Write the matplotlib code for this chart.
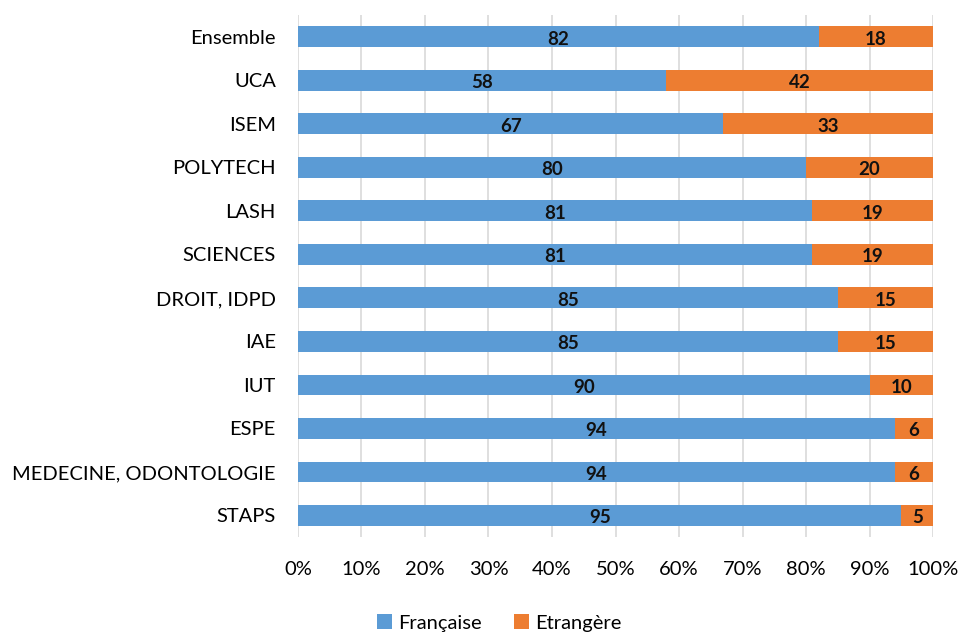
import matplotlib
matplotlib.use("Agg")
import matplotlib.pyplot as plt
import numpy as np

plt.rcParams['font.family'] = ['Lato', 'DejaVu Sans']

categories = ['Ensemble', 'UCA', 'ISEM', 'POLYTECH', 'LASH', 'SCIENCES',
              'DROIT, IDPD', 'IAE', 'IUT', 'ESPE', 'MEDECINE, ODONTOLOGIE', 'STAPS']
francaise = [82, 58, 67, 80, 81, 81, 85, 85, 90, 94, 94, 95]
etrangere = [18, 42, 33, 20, 19, 19, 15, 15, 10, 6, 6, 5]
xticks = [0, 10, 20, 30, 40, 50, 60, 70, 80, 90, 100]

blue = '#5B9BD5'
orange = '#ED7D31'

fig = plt.figure(figsize=(9.6, 6.32), dpi=100)
ax = fig.add_axes([0.3104, 0.150, 0.6615, 0.826])

y = np.arange(len(categories))
b1 = ax.barh(y, francaise, height=0.48, color=blue, label='Française', zorder=3)
b2 = ax.barh(y, etrangere, left=francaise, height=0.48, color=orange, label='Etrangère', zorder=3)

for bars, vals in ((b1, francaise), (b2, etrangere)):
    for bar, v in zip(bars, vals):
        ax.text(bar.get_x() + bar.get_width() / 2, bar.get_y() + bar.get_height() / 2 + 0.05,
                str(v), ha='center', va='center', fontsize=13.5, fontweight='bold',
                color='#111111', zorder=4)

ax.set_ylim(11.5, -0.5)
ax.set_xlim(0, 100)
ax.set_yticks(y)
ax.set_yticklabels(categories, fontsize=14.5)
ax.set_xticks(xticks)
ax.set_xticklabels([f'{t}%' for t in xticks], fontsize=14.5)
ax.tick_params(axis='y', length=0, pad=16)
ax.tick_params(axis='x', length=0, pad=17)
ax.grid(axis='x', color='#d9d9d9', linewidth=1.2, zorder=0)
for s in ax.spines.values():
    s.set_visible(False)

fig.legend(handles=[b1, b2], loc='lower center', bbox_to_anchor=(0.52, -0.028), ncol=2,
           frameon=False, fontsize=14.5, handlelength=0.75, handleheight=0.75,
           handletextpad=0.3, columnspacing=1.6)

fig.savefig('out.png', dpi=100)
